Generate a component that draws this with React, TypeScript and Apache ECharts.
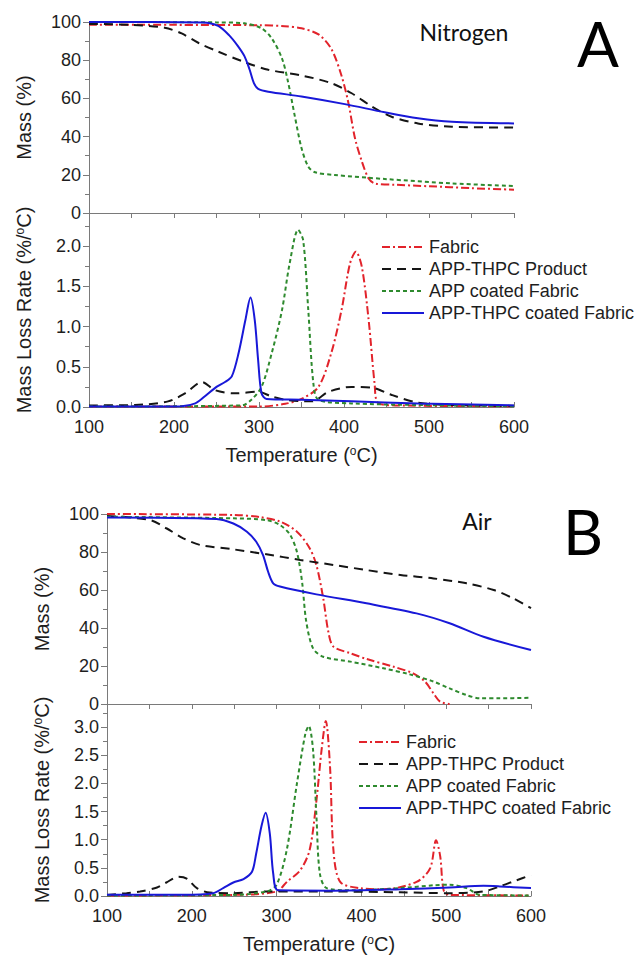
import React, { useEffect, useRef } from "react";
import * as echarts from "echarts";

// ---------- Data (temperature °C, value) ----------
const tempTicks = [100, 200, 300, 400, 500, 600];
const seriesNames = ["Fabric", "APP-THPC Product", "APP coated Fabric", "APP-THPC coated Fabric"];

// Panel A – Nitrogen, mass (%)
const nMassFabric = [[100,98.6],[200,98.5],[300,98.3],[330,97.8],[350,96.7],[370,93.5],[385,86],[397,72],[405,58],[413,39],[421,27],[429,18],[436,15.5],[460,14.8],[500,14],[550,13],[600,12.2]];
const nMassProduct = [[100,99],[150,98.5],[189,97],[209,94],[229,89],[252,84.5],[283,79],[311,75],[350,72],[385,68],[409,62.7],[433,55.7],[456,50.4],[487,46.9],[527,45.2],[600,44.7]];
const nMassApp = [[100,100],[250,99.8],[283,99.3],[303,96.7],[315,91.4],[327,81],[334,69],[342,51],[350,34],[358,24.3],[366,21.3],[389,19.9],[448,17.8],[527,15.5],[600,14.1]];
const nMassAppThpc = [[100,100],[234,99.8],[252,98],[265,93],[275,87.5],[283,82],[289,75],[294,68],[299,65],[311,63.5],[350,61],[401,57],[448,52.7],[487,49.6],[527,47.8],[600,46.9]];

// Panel A – Nitrogen, mass loss rate (%/°C)
const nRateFabric = [[100,0.005],[300,0.005],[331,0.04],[350,0.1],[370,0.25],[385,0.67],[397,1.2],[407,1.78],[414,1.93],[421,1.74],[429,1.08],[436,0.29],[440,0.05],[460,0.02],[600,0.01]];
const nRateProduct = [[100,0.02],[154,0.025],[193,0.07],[213,0.17],[233,0.31],[248,0.21],[272,0.17],[299,0.19],[315,0.13],[331,0.09],[362,0.07],[382,0.19],[409,0.25],[433,0.24],[456,0.15],[487,0.054],[527,0.025],[600,0.015]];
const nRateApp = [[100,0.005],[280,0.02],[291,0.09],[303,0.25],[315,0.67],[327,1.2],[336,1.78],[346,2.2],[352,2.07],[358,1.2],[364,0.29],[370,0.09],[409,0.045],[487,0.025],[600,0.01]];
const nRateAppThpc = [[100,0.005],[201,0.005],[225,0.045],[236,0.13],[250,0.25],[260,0.31],[268,0.38],[276,0.67],[284,1.08],[290,1.36],[295,1.08],[299,0.58],[303,0.17],[309,0.1],[350,0.09],[409,0.07],[487,0.045],[600,0.02]];

// Panel B – Air, mass (%)
const aMassFabric = [[100,100],[249,99.5],[280,98.4],[304,96],[324,90.7],[339,82],[347,73],[355,55.6],[361,38],[367,30.2],[387,26.7],[406,23.7],[438,19.6],[461,16.1],[475,11.8],[485,5.6],[493,1.2],[504,0]];
const aMassProduct = [[100,99],[151,96.8],[170,92.5],[190,87.2],[210,83.7],[249,81.4],[288,78.8],[328,75.8],[367,73.2],[406,70.5],[446,67.9],[485,66.1],[524,63.5],[556,60],[579,55.6],[600,50.4]];
const aMassApp = [[100,98.6],[249,97.7],[288,96.8],[304,94.2],[316,89],[324,80],[330,64.4],[335,43.3],[343,29.3],[355,24.9],[387,22.3],[426,18.8],[457,15.6],[485,11.8],[504,8.2],[524,4.7],[540,3],[563,3],[600,3.3]];
const aMassAppThpc = [[100,98.2],[229,97.4],[249,95],[265,90.7],[276,85.4],[284,78.4],[290,69.6],[296,63.5],[304,61.8],[347,57.7],[406,53],[465,47.7],[504,42.5],[544,35.4],[600,28.4]];

// Panel B – Air, mass loss rate (%/°C)
const aRateFabric = [[100,0.01],[250,0.02],[300,0.08],[312,0.25],[328,0.46],[339,0.82],[347,1.7],[353,2.59],[358,3.11],[363,2.3],[367,0.82],[375,0.25],[398,0.14],[426,0.12],[465,0.25],[481,0.49],[488,0.99],[493,0.7],[497,0.1],[504,0.02],[600,0.01]];
const aRateProduct = [[100,0.02],[123,0.05],[139,0.08],[159,0.15],[170,0.24],[184,0.34],[194,0.31],[206,0.14],[221,0.06],[249,0.05],[288,0.08],[367,0.08],[446,0.065],[504,0.05],[544,0.08],[563,0.17],[583,0.28],[600,0.37]];
const aRateApp = [[100,0.01],[249,0.02],[288,0.08],[300,0.2],[312,0.82],[324,2.0],[334,2.89],[338,3.02],[343,2.59],[347,1.41],[351,0.4],[359,0.14],[387,0.1],[446,0.14],[485,0.19],[504,0.2],[524,0.14],[540,0.02],[600,0.01]];
const aRateAppThpc = [[100,0.02],[190,0.02],[225,0.05],[237,0.14],[249,0.24],[261,0.3],[271,0.43],[276,0.76],[282,1.23],[287,1.48],[292,1.11],[296,0.4],[302,0.1],[367,0.095],[446,0.12],[504,0.15],[544,0.18],[563,0.17],[600,0.14]];

// ---------- Styles ----------
const FONT = '"Liberation Sans", Arial, sans-serif';
const TITLE_FONT = 'Lato, "Liberation Sans", sans-serif';
const AXIS_COLOR = "#7a7a7a";
const TEXT_COLOR = "#1e1e1e";
const styles = [
  { color: "#e2232b", type: [8, 3, 2, 3] },
  { color: "#151515", type: [9, 6] },
  { color: "#2e8a2e", type: [4, 3] },
  { color: "#1818d8", type: "solid" },
];

export default function App() {
  const ref = useRef<HTMLDivElement>(null);

  useEffect(() => {
    if (!ref.current) return;
    const chart = echarts.init(ref.current, undefined, { renderer: "svg" });

    const grids = [
      { left: 89, top: 22, width: 425, height: 191 },
      { left: 89, top: 213, width: 425, height: 194 },
      { left: 107, top: 514, width: 424, height: 190 },
      { left: 107, top: 704, width: 424, height: 192 },
    ];

    const supRich = { sup: { fontFamily: FONT, fontSize: 12, color: TEXT_COLOR, verticalAlign: "top" } };

    const xAxisFor = (gridIndex: number, showLabels: boolean) => ({
      type: "value",
      gridIndex,
      min: 100,
      max: 600,
      interval: 100,
      axisLine: { show: true, lineStyle: { color: AXIS_COLOR, width: 1 } },
      axisTick: { show: true, inside: showLabels, length: 5, lineStyle: { color: AXIS_COLOR } },
      minorTick: { show: true, splitNumber: 2, length: 5, lineStyle: { color: AXIS_COLOR } },
      splitLine: { show: false },
      axisLabel: {
        show: showLabels,
        fontFamily: FONT,
        fontSize: 18,
        color: TEXT_COLOR,
        margin: 11,
      },
      name: showLabels ? "Temperature ({sup|o}C)" : "",
      nameLocation: "middle",
      nameGap: 38,
      nameTextStyle: { fontFamily: FONT, fontSize: 20, color: TEXT_COLOR, rich: supRich },
    });

    const yMass = (gridIndex: number) => ({
      type: "value",
      gridIndex,
      min: 0,
      max: 100,
      interval: 20,
      axisLine: { show: true, lineStyle: { color: AXIS_COLOR, width: 1 } },
      axisTick: { show: true, inside: false, length: 6, lineStyle: { color: AXIS_COLOR } },
      minorTick: { show: true, splitNumber: 2, length: 4, lineStyle: { color: AXIS_COLOR } },
      splitLine: { show: false },
      axisLabel: { fontFamily: FONT, fontSize: 18, color: TEXT_COLOR, margin: 8 },
      name: "Mass (%)",
      nameLocation: "middle",
      nameGap: 55,
      nameRotate: 90,
      nameTextStyle: { fontFamily: FONT, fontSize: 20, color: TEXT_COLOR },
    });

    const yRate = (gridIndex: number, max: number) => ({
      type: "value",
      gridIndex,
      min: 0,
      max,
      interval: 0.5,
      axisLine: { show: true, lineStyle: { color: AXIS_COLOR, width: 1 } },
      axisTick: { show: true, inside: false, length: 6, lineStyle: { color: AXIS_COLOR } },
      minorTick: { show: true, splitNumber: 2, length: 4, lineStyle: { color: AXIS_COLOR } },
      splitLine: { show: false },
      axisLabel: {
        fontFamily: FONT,
        fontSize: 18,
        color: TEXT_COLOR,
        margin: 8,
        showMaxLabel: false,
        formatter: (v: number) => (Math.abs(v / 0.5 - Math.round(v / 0.5)) < 1e-6 ? v.toFixed(1) : ""),
      },
      name: "Mass Loss Rate (%/{sup|o}C)",
      nameLocation: "middle",
      nameGap: 55,
      nameRotate: 90,
      nameTextStyle: { fontFamily: FONT, fontSize: 20, color: TEXT_COLOR, rich: supRich },
    });

    const groups = [
      [nMassFabric, nMassProduct, nMassApp, nMassAppThpc],
      [nRateFabric, nRateProduct, nRateApp, nRateAppThpc],
      [aMassFabric, aMassProduct, aMassApp, aMassAppThpc],
      [aRateFabric, aRateProduct, aRateApp, aRateAppThpc],
    ];

    const series: any[] = [];
    groups.forEach((grp, gi) => {
      grp.forEach((data, si) => {
        series.push({
          type: "line",
          name: seriesNames[si],
          data,
          xAxisIndex: gi,
          yAxisIndex: gi,
          symbol: "none",
          showSymbol: false,
          smooth: 0.3,
          lineStyle: { color: styles[si].color, width: 2, type: styles[si].type },
          itemStyle: { color: styles[si].color },
          z: 2 + (si === 3 ? 1 : 0),
        });
      });
    });

    const legendFor = (left: number, top: number) => ({
      show: true,
      orient: "vertical",
      left,
      top,
      itemWidth: 42,
      itemHeight: 14,
      itemGap: 4,
      data: seriesNames,
      icon: undefined,
      itemStyle: { opacity: 0 },
      textStyle: { fontFamily: FONT, fontSize: 18, color: TEXT_COLOR },
      selectedMode: false,
    });

    chart.setOption({
      animation: false,
      backgroundColor: "#ffffff",
      grid: grids,
      xAxis: [xAxisFor(0, false), xAxisFor(1, true), xAxisFor(2, false), xAxisFor(3, true)],
      yAxis: [yMass(0), yRate(1, 2.41), yMass(2), yRate(3, 3.41)],
      legend: [legendFor(376, 233), legendFor(353, 728)],
      series,
      graphic: [
        { type: "text", x: 464, y: 32, style: { text: "Nitrogen", font: `23px ${TITLE_FONT}`, fill: "#111", textAlign: "center", textVerticalAlign: "middle" } },
        { type: "text", x: 598, y: 43, style: { text: "A", font: `62px ${TITLE_FONT}`, fill: "#000", textAlign: "center", textVerticalAlign: "middle" } },
        { type: "text", x: 477, y: 521, style: { text: "Air", font: `23px ${TITLE_FONT}`, fill: "#111", textAlign: "center", textVerticalAlign: "middle" } },
        { type: "text", x: 583, y: 531, style: { text: "B", font: `62px ${TITLE_FONT}`, fill: "#000", textAlign: "center", textVerticalAlign: "middle" } },
      ],
    });

    return () => chart.dispose();
  }, []);

  return (
    <div
      ref={ref}
      style={{ position: "absolute", left: 0, top: 0, width: 634, height: 959, background: "#fff" }}
    />
  );
}
